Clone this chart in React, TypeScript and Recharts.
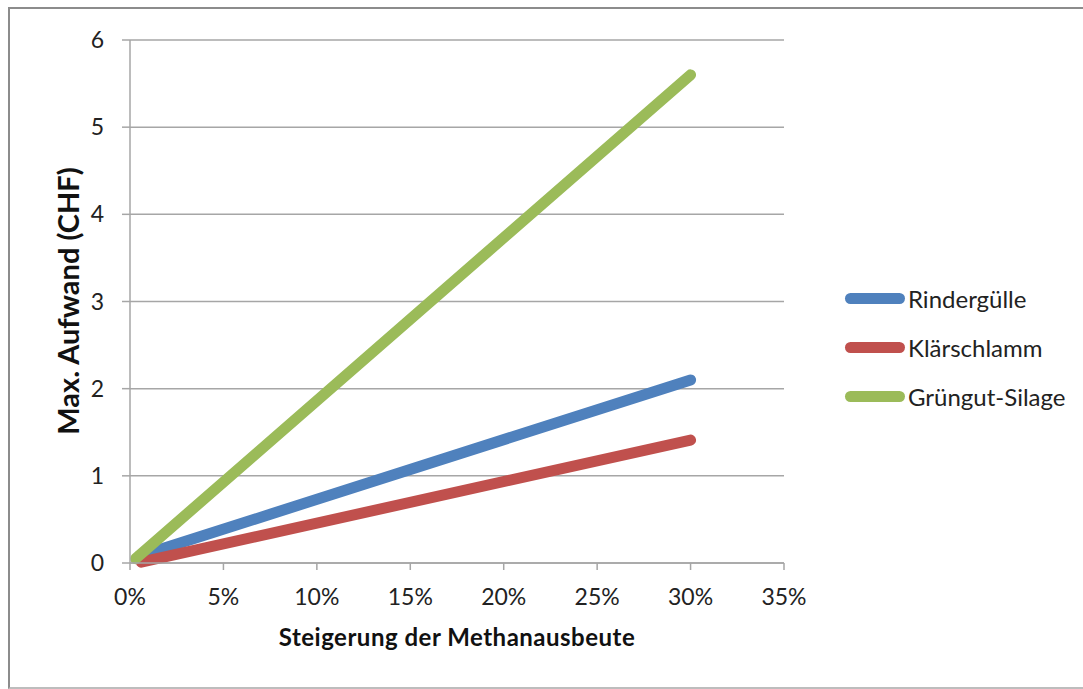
import { LineChart, Line, XAxis, YAxis, CartesianGrid } from 'recharts';

// Steigerung der Methanausbeute (fraction) vs. max. Aufwand (CHF)
const rindergulle = [
  { x: 0.005, y: 0.08 },
  { x: 0.3, y: 2.1 },
];
const klaerschlamm = [
  { x: 0.006, y: 0.01 },
  { x: 0.3, y: 1.41 },
];
const gruengut = [
  { x: 0.003, y: 0.05 },
  { x: 0.3, y: 5.6 },
];

const xTicks = [0, 0.05, 0.1, 0.15, 0.2, 0.25, 0.3, 0.35];
const yTicks = [0, 1, 2, 3, 4, 5, 6];

const seriesList = [
  { name: 'Rindergülle', data: rindergulle, color: '#4f81bd' },
  { name: 'Klärschlamm', data: klaerschlamm, color: '#c0504d' },
  { name: 'Grüngut-Silage', data: gruengut, color: '#9bbb59' },
];

const FONT = 'Lato, "Open Sans", sans-serif';
const GRID = '#a6a6a6';

function LegendBox() {
  return (
    <div style={{ position: 'absolute', left: 845, top: 274, fontFamily: FONT, fontSize: 24, color: '#222' }}>
      {seriesList.map((s) => (
        <div key={s.name} style={{ display: 'flex', alignItems: 'center', height: 49 }}>
          <div style={{ width: 60, height: 11, borderRadius: 6, background: s.color, marginRight: 3 }} />
          <span>{s.name}</span>
        </div>
      ))}
    </div>
  );
}

export default function App() {
  return (
    <div style={{ position: 'absolute', left: 0, top: 0, width: 1083, height: 689, background: '#fff', overflow: 'hidden' }}>
      {/* chart frame */}
      <div
        style={{
          position: 'absolute',
          left: 8,
          top: 7,
          width: 1100,
          height: 678,
          border: '2px solid #8c8c8c',
          borderBottomColor: '#bdbdbd',
        }}
      />
      <LineChart
        width={1083}
        height={689}
        margin={{ top: 40, right: 299, left: 100, bottom: 66 }}
        style={{ position: 'absolute', left: 0, top: 0 }}
      >
        <CartesianGrid vertical={false} stroke={GRID} strokeWidth={1.5} />
        <XAxis
          type="number"
          dataKey="x"
          domain={[0, 0.35]}
          ticks={xTicks}
          tickFormatter={(v) => `${Math.round(v * 100)}%`}
          stroke={GRID}
          strokeWidth={1.5}
          tickSize={7}
          tickMargin={19}
          height={60}
          tick={{ fill: '#222', fontSize: 23, fontFamily: FONT }}
          allowDuplicatedCategory={false}
        />
        <YAxis
          type="number"
          domain={[0, 6]}
          ticks={yTicks}
          stroke={GRID}
          strokeWidth={1.5}
          tickSize={8}
          tickMargin={18}
          width={30}
          tick={{ fill: '#222', fontSize: 23, fontFamily: FONT }}
        />
        {seriesList.map((s) => (
          <Line
            key={s.name}
            data={s.data}
            dataKey="y"
            name={s.name}
            type="linear"
            stroke={s.color}
            strokeWidth={11}
            strokeLinecap="round"
            dot={false}
            activeDot={false}
            isAnimationActive={false}
          />
        ))}
      </LineChart>
      <LegendBox />
      <div
        style={{
          position: 'absolute',
          left: 130,
          width: 654,
          top: 622,
          textAlign: 'center',
          fontFamily: FONT,
          fontWeight: 700,
          fontSize: 24,
          letterSpacing: 0.5,
          color: '#111',
        }}
      >
        Steigerung der Methanausbeute
      </div>
      <div
        style={{
          position: 'absolute',
          left: 67,
          top: 301,
          transform: 'translate(-50%, -50%) rotate(-90deg)',
          whiteSpace: 'nowrap',
          fontFamily: FONT,
          fontWeight: 700,
          fontSize: 29,
          color: '#111',
        }}
      >
        Max. Aufwand (CHF)
      </div>
    </div>
  );
}
